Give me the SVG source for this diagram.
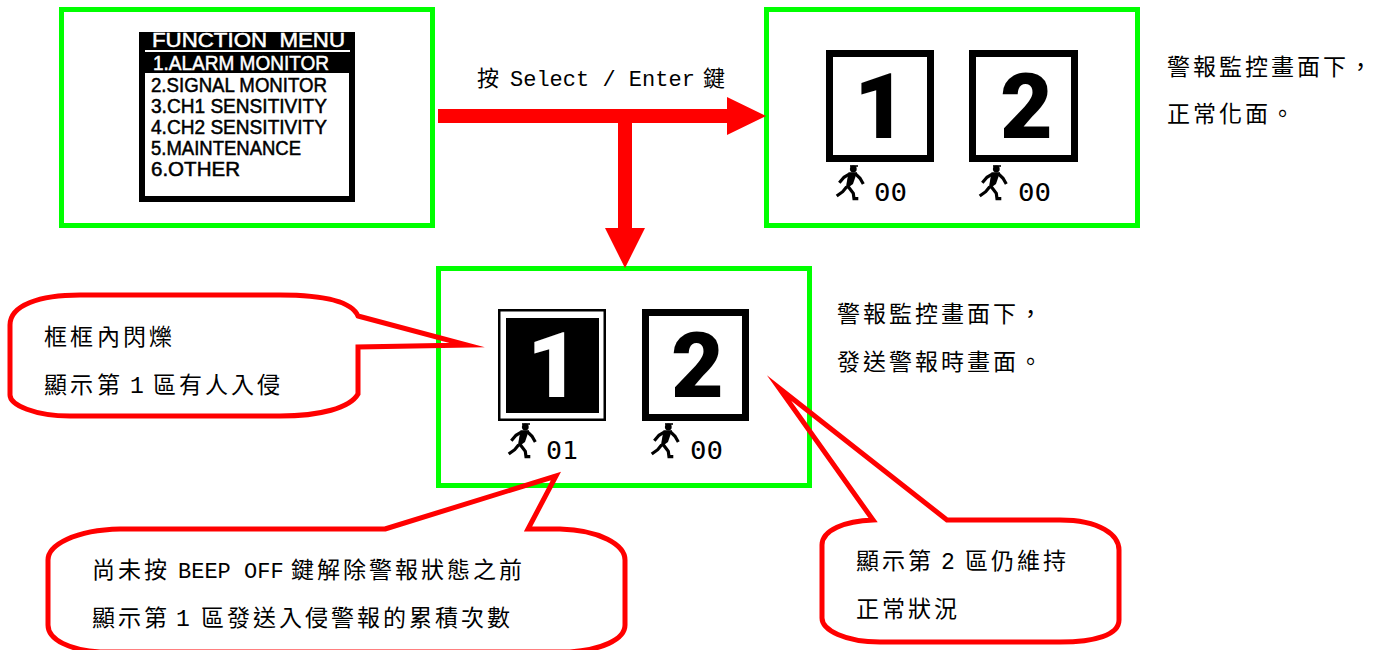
<svg xmlns="http://www.w3.org/2000/svg" xmlns:xlink="http://www.w3.org/1999/xlink" width="1383" height="650" viewBox="0 0 1383 650">
<style>
.frame{fill:none;stroke:#00ff00;stroke-width:5}
.callout{fill:none;stroke:#ff0000;stroke-width:5;stroke-linejoin:miter;stroke-miterlimit:12}
.t{font-family:"Liberation Mono","Noto Sans CJK TC",monospace;font-size:22px;fill:#000}
.c{font-size:23px}
.b{font-family:"Roboto",sans-serif;font-weight:900;font-size:91px}
.n{font-family:"DejaVu Sans Mono",monospace;font-size:24px;fill:#000}
.m{font-family:"Liberation Sans",sans-serif;font-size:20px;fill:#000;stroke:#000;stroke-width:.5px}
.w{fill:#fff;stroke:#fff}
.box{fill:#fff;stroke:#000;stroke-width:7}
.lim{fill:none;stroke:#000;stroke-width:3.200}
</style>
<defs>
<g id="runner">
<path class="lim" d="M20 8.300 L25 13.300 L28.300 19 M14.300 9 L9 12.300 L4.300 17.700 M11.700 21.700 L7.700 26.700 L1.700 31 M13.300 21.700 L18.300 28.300 L19 33.700 L23.300 33.700"/>
<path d="M13.500 7.200 L22 7.200 L18 19 L10.500 24.500 Z" fill="#000"/>
<circle cx="18.300" cy="4" r="3.400" fill="#000"/>
<path d="M15 1 H23" stroke="#000" stroke-width="1.600"/>
</g>
</defs>
<rect width="1383" height="650" fill="#fff"/>

<g id="menu-screen">
<rect class="frame" x="61.500" y="9.500" width="371" height="216"/>
<rect x="139" y="32" width="216" height="170" fill="#000"/>
<rect x="145" y="73" width="204" height="123" fill="#fff"/>
<rect x="145" y="50" width="205" height="2" fill="#fff"/>
<text class="m w" x="152" y="47" textLength="193" lengthAdjust="spacingAndGlyphs" xml:space="preserve">FUNCTION  MENU</text>
<text class="m w" x="153" y="70" textLength="176" lengthAdjust="spacingAndGlyphs">1.ALARM MONITOR</text>
<text class="m" x="151" y="92" textLength="176" lengthAdjust="spacingAndGlyphs">2.SIGNAL MONITOR</text>
<text class="m" x="151" y="113" textLength="176" lengthAdjust="spacingAndGlyphs">3.CH1 SENSITIVITY</text>
<text class="m" x="151" y="134" textLength="176" lengthAdjust="spacingAndGlyphs">4.CH2 SENSITIVITY</text>
<text class="m" x="151" y="155" textLength="150" lengthAdjust="spacingAndGlyphs">5.MAINTENANCE</text>
<text class="m" x="151" y="176" textLength="89" lengthAdjust="spacingAndGlyphs">6.OTHER</text>
</g>

<g id="normal-screen">
<rect class="frame" x="766.500" y="9.500" width="371" height="216"/>
<rect class="box" x="829.500" y="53.500" width="101" height="105"/>
<rect class="box" x="972.500" y="53.500" width="102" height="105"/>
<text class="b" x="854" y="138">1</text>
<text class="b" x="1000" y="138">2</text>
<use xlink:href="#runner" href="#runner" x="835" y="165"/>
<use xlink:href="#runner" href="#runner" x="978" y="165"/>
<text class="n" x="874" y="201" textLength="33" lengthAdjust="spacingAndGlyphs">00</text>
<text class="n" x="1018" y="201" textLength="33" lengthAdjust="spacingAndGlyphs">00</text>
</g>

<g id="alarm-screen">
<rect class="frame" x="438.500" y="268.500" width="371" height="217"/>
<rect x="498" y="309" width="108" height="112" fill="#000"/>
<rect x="500.500" y="311.500" width="103" height="107" fill="#fff"/>
<rect x="506" y="318" width="93" height="95" fill="#000"/>
<text class="b w" style="stroke:none" x="527" y="397">1</text>
<rect class="box" x="645.500" y="312.500" width="100" height="105"/>
<text class="b" x="671" y="397">2</text>
<use xlink:href="#runner" href="#runner" x="507" y="423"/>
<use xlink:href="#runner" href="#runner" x="650" y="423"/>
<text class="n" x="546" y="459" textLength="32" lengthAdjust="spacingAndGlyphs">01</text>
<text class="n" x="690" y="459" textLength="33" lengthAdjust="spacingAndGlyphs">00</text>
</g>

<g id="connectors">
<path d="M438 109 H727 V97 L766 116 L727 135 V123 H632 V228 H645 L625 268 L605 228 H618 V123 H438 Z" fill="#ff0000"/>
</g>

<g id="callout-1">
<path class="callout" d="M358 316 L467 345 L358 347 L358 394 C350 408 320 416 280 416 L70 416 C35 416 10 405 10 395 L10 325 C10 305 40 295 80 295 L280 295 C325 295 352 302 358 316 Z"/>
<text class="t c" x="44 70 97 123 149" y="345">框框內閃爍</text>
<text class="t c" x="44 70 97 130 153 179 205 231 257" y="393">顯示第1區有人入侵</text>
</g>
<g id="callout-2">
<path class="callout" d="M385 529 L556 476 L528 529 L560 529 C600 530 625 545 625 560 L625 625 C625 640 600 650 570 652 L100 652 C70 650 48 640 48 625 L48 560 C48 545 75 530 120 529 Z"/>
<text class="t c" x="92 118 144" y="578">尚未按</text>
<text class="t" x="178" y="578" xml:space="preserve">BEEP OFF</text>
<text class="t c" x="291 317 343 369 395 421 447 473 499" y="578">鍵解除警報狀態之前</text>
<text class="t c" x="92 118 144 176 201 227 253 279 305 331 357 383 409 435 461 487" y="626">顯示第1區發送入侵警報的累積次數</text>
</g>
<g id="callout-3">
<path class="callout" d="M873 520 L779 388 L947 520 L1060 520 C1100 520 1119 535 1119 550 L1119 620 C1119 635 1095 642 1060 642 L880 642 C845 642 822 630 822 618 L822 545 C822 530 845 521 873 520 Z"/>
<text class="t c" x="856 882 908 941 965 991 1017 1043" y="569">顯示第2區仍維持</text>
<text class="t c" x="856 882 908 934" y="617">正常狀況</text>
</g>

<g id="labels">
<text class="t" x="477" y="86">按</text>
<text class="t" x="510" y="86" xml:space="preserve">Select / Enter</text>
<text class="t" x="703" y="86">鍵</text>
<text class="t c" x="1167 1193 1219 1245 1271 1297 1323 1349" y="75">警報監控畫面下，</text>
<text class="t c" x="1167 1193 1219 1245 1271" y="122">正常化面。</text>
<text class="t c" x="837 863 889 915 941 967 993 1019" y="322">警報監控畫面下，</text>
<text class="t c" x="837 863 889 915 941 967 993 1019" y="370">發送警報時畫面。</text>
</g>
</svg>
